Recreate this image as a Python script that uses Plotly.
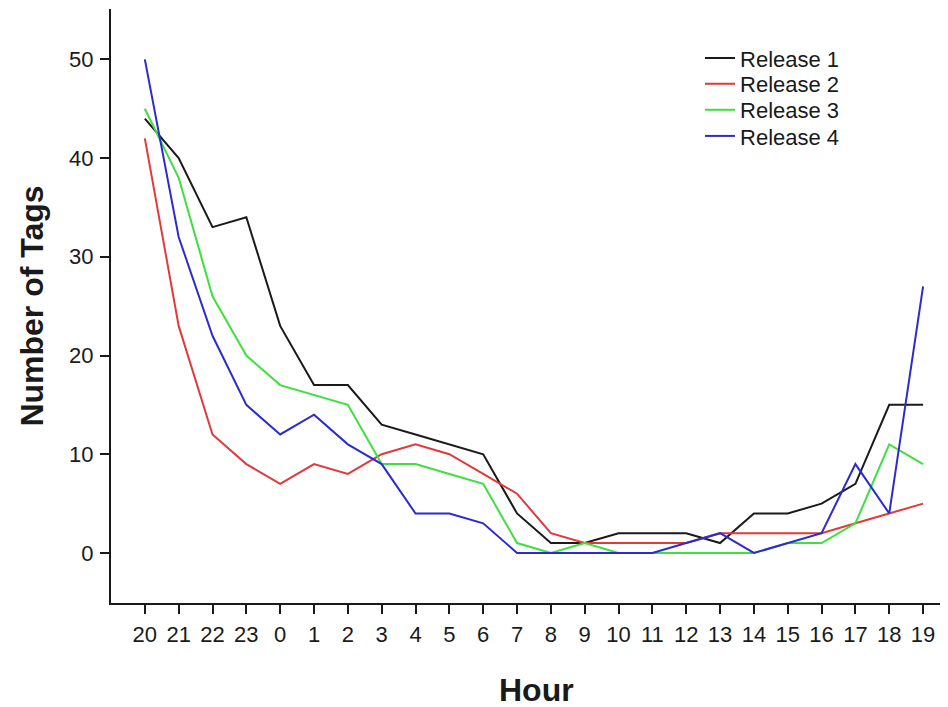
import plotly.graph_objects as go

hours = ["20", "21", "22", "23", "0", "1", "2", "3", "4", "5", "6", "7",
         "8", "9", "10", "11", "12", "13", "14", "15", "16", "17", "18", "19"]

release1 = [44, 40, 33, 34, 23, 17, 17, 13, 12, 11, 10, 4, 1, 1, 2, 2, 2, 1, 4, 4, 5, 7, 15, 15]
release2 = [42, 23, 12, 9, 7, 9, 8, 10, 11, 10, 8, 6, 2, 1, 1, 1, 1, 2, 2, 2, 2, 3, 4, 5]
release3 = [45, 38, 26, 20, 17, 16, 15, 9, 9, 8, 7, 1, 0, 1, 0, 0, 0, 0, 0, 1, 1, 3, 11, 9]
release4 = [50, 32, 22, 15, 12, 14, 11, 9, 4, 4, 3, 0, 0, 0, 0, 0, 1, 2, 0, 1, 2, 9, 4, 27]

series = [
    ("Release 1", release1, "#1a1a1a"),
    ("Release 2", release2, "#e03a3a"),
    ("Release 3", release3, "#3ee03e"),
    ("Release 4", release4, "#2b2bd0"),
]

FONT = "Liberation Sans, Arial, sans-serif"
INK = "#1a1a1a"

legend_ids = ["legend", "legend2", "legend3", "legend4"]
legend_y = [0.917, 0.874, 0.830, 0.786]

fig = go.Figure()
for (name, vals, color), lid in zip(series, legend_ids):
    fig.add_trace(go.Scatter(
        x=hours, y=vals, mode="lines", name=name,
        line=dict(color=color, width=2),
        legend=lid,
    ))

legend_common = dict(
    x=0.7105, xanchor="left", yanchor="middle",
    bgcolor="rgba(0,0,0,0)", borderwidth=0,
    font=dict(size=22, family=FONT, color=INK),
    tracegroupgap=0, itemwidth=30,
)

layout_legends = {lid: dict(legend_common, y=ly) for lid, ly in zip(legend_ids, legend_y)}

fig.update_layout(
    width=948, height=707,
    margin=dict(l=111, r=8, t=9, b=104),
    paper_bgcolor="white", plot_bgcolor="white",
    font=dict(family=FONT, color=INK, size=22),
    showlegend=True,
    **layout_legends,
    xaxis=dict(
        type="category", range=[-1.0, 23.5],
        showgrid=False, zeroline=False,
        showline=True, linecolor=INK, linewidth=2,
        ticks="outside", ticklen=9, tickwidth=2, tickcolor=INK,
        tickfont=dict(size=22, family=FONT, color=INK),
        ticklabelstandoff=2,
    ),
    yaxis=dict(
        range=[-5.07, 55.1],
        tickvals=[0, 10, 20, 30, 40, 50],
        showgrid=False, zeroline=False,
        showline=True, linecolor=INK, linewidth=2,
        ticks="outside", ticklen=9, tickwidth=2, tickcolor=INK,
        tickfont=dict(size=22, family=FONT, color=INK),
        ticklabelstandoff=2,
        title=dict(text="<b>Number of Tags</b>", font=dict(size=32, family=FONT, color=INK), standoff=16),
    ),
    annotations=[dict(
        text="<b>Hour</b>", xref="paper", yref="paper",
        x=0.5127, y=-0.1465, xanchor="center", yanchor="middle",
        showarrow=False, font=dict(size=32, family=FONT, color=INK),
    )],
)

fig.write_html("out.html")
